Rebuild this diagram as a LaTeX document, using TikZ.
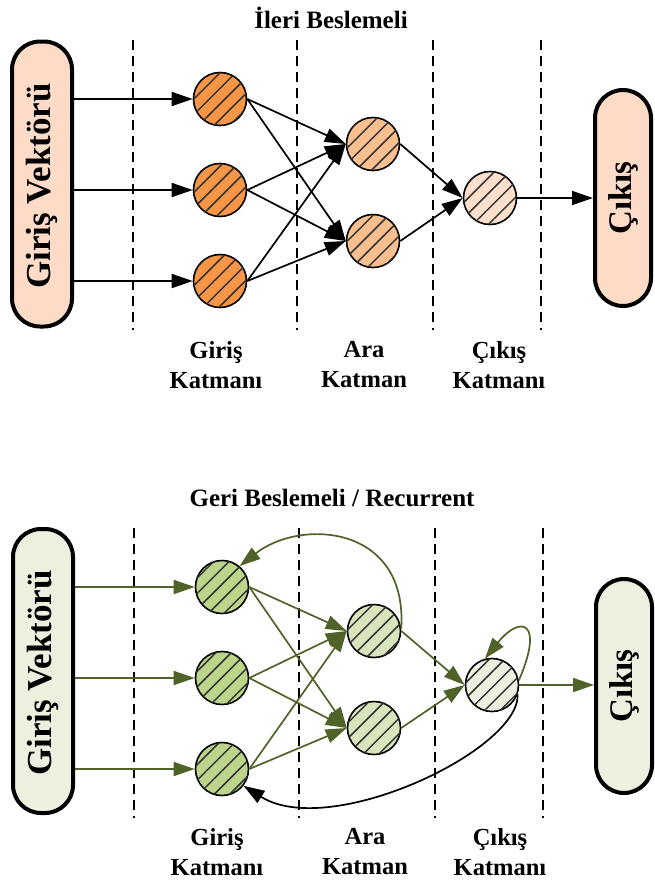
\documentclass[tikz,border=0pt]{standalone}
\usepackage{fontspec}
\setmainfont{Liberation Serif}
\usetikzlibrary{arrows.meta,patterns.meta}
\definecolor{or1}{HTML}{F79646}
\definecolor{or2}{HTML}{FABF8F}
\definecolor{or3}{HTML}{FDE0CC}
\definecolor{orbox}{HTML}{FDDBC7}
\definecolor{gr1}{HTML}{BCD58A}
\definecolor{gr2}{HTML}{D7E4BC}
\definecolor{gr3}{HTML}{EBF1DE}
\definecolor{grbox}{HTML}{EBF1DE}
\definecolor{olive}{HTML}{4F6228}
\begin{document}
\begin{tikzpicture}[x=1pt,y=-1pt,
  neuron/.style={circle, draw=black, line width=1.6pt, inner sep=0pt, minimum size=53pt,
    postaction={pattern={Lines[angle=45,distance=11pt,line width=1.5pt]}, pattern color=black!80}},
  vbox/.style={draw=black, line width=4pt, rounded corners=28pt, inner sep=0pt},
  boxtext/.style={rotate=90, font=\fontsize{35}{40}\selectfont\bfseries},
  outtext/.style={rotate=90, font=\fontsize{33}{38}\selectfont\bfseries},
  title/.style={anchor=base, font=\fontsize{25}{30}\selectfont\bfseries},
  layerlabel/.style={align=center, font=\fontsize{24.5}{30}\selectfont\bfseries},
  sep/.style={draw=black, line width=1.8pt, dash pattern=on 10pt off 6pt},
  arr/.style={draw=black, line width=1.7pt, -{Triangle[length=21pt,width=14pt]}},
  garr/.style={draw=olive, line width=1.7pt, -{Triangle[length=21pt,width=14pt]}},
  barr/.style={draw=black, line width=1.7pt, -{Triangle[length=21pt,width=14pt]}}
]
\useasboundingbox (0,0) rectangle (654,884);

% ================= TOP: Ileri Beslemeli =================
\node[title] (t1) at (331,28) {İleri Beslemeli};

\foreach \x in {133,297,433,541} \draw[sep] (\x,40) -- (\x,330);

\node[vbox, fill=orbox, minimum width=60pt, minimum height=285pt] (inbox) at (42,184) {};
\node[boxtext] (inboxtxt) at (42,186) {Giriş Vektörü};
\node[vbox, fill=orbox, minimum width=56pt, minimum height=216pt] (outbox) at (623,198) {};
\node[outtext] (outboxtxt) at (623,198) {Çıkış};

\node[neuron, fill=or1] (i1) at (220,99) {};
\node[neuron, fill=or1] (i2) at (220,190) {};
\node[neuron, fill=or1] (i3) at (220,281) {};
\node[neuron, fill=or2] (h1) at (373,144) {};
\node[neuron, fill=or2] (h2) at (373,241) {};
\node[neuron, fill=or3] (o) at (490,198) {};

\foreach \n in {i1,i2,i3} \draw[arr] (inbox.east |- \n) -- (\n.west);
\foreach \a in {i1,i2,i3} \foreach \b in {h1,h2} \draw[arr] (\a.east) -- (\b.west);
\foreach \b in {h1,h2} \draw[arr] (\b.east) -- (o.west);
\draw[arr] (o.east) -- (outbox.west |- o);

\node[layerlabel] (l1) at (216,365) {Giriş\\Katmanı};
\node[layerlabel] (l2) at (364,365) {Ara\\Katman};
\node[layerlabel] (l3) at (499,365) {Çıkış\\Katmanı};

% ================= BOTTOM: Geri Beslemeli =================
\node[title] (t2) at (332,506) {Geri Beslemeli / Recurrent};

\foreach \x in {134,299,435,543} \draw[sep] (\x,528) -- (\x,818);

\node[vbox, fill=grbox, minimum width=60pt, minimum height=284pt] (ginbox) at (43,671) {};
\node[boxtext] (ginboxtxt) at (43,673) {Giriş Vektörü};
\node[vbox, fill=grbox, minimum width=56pt, minimum height=214pt] (goutbox) at (624,686) {};
\node[outtext] (goutboxtxt) at (624,686) {Çıkış};

\node[neuron, fill=gr1] (j1) at (222,587) {};
\node[neuron, fill=gr1] (j2) at (222,678) {};
\node[neuron, fill=gr1] (j3) at (222,769) {};
\node[neuron, fill=gr2] (k1) at (374,631) {};
\node[neuron, fill=gr2] (k2) at (374,728) {};
\node[neuron, fill=gr3] (p) at (492,685) {};

\foreach \n in {j1,j2,j3} \draw[garr] (ginbox.east |- \n) -- (\n.west);
\foreach \a in {j1,j2,j3} \foreach \b in {k1,k2} \draw[garr] (\a.east) -- (\b.west);
\foreach \b in {k1,k2} \draw[garr] (\b.east) -- (p.west);
\draw[garr] (p.east) -- (goutbox.west |- p);

% recurrent connections
\draw[garr] (k1.5) .. controls (408,525) and (301,518) .. (j1.50);
\draw[garr] (p.10) .. controls (545,620) and (520,615) .. (p.105);
\draw[barr] (p.-20) .. controls (520,750) and (330,840) .. (j3.-38);

\node[layerlabel] (m1) at (217,852) {Giriş\\Katmanı};
\node[layerlabel] (m2) at (365,852) {Ara\\Katman};
\node[layerlabel] (m3) at (500,852) {Çıkış\\Katmanı};
\end{tikzpicture}
\end{document}
